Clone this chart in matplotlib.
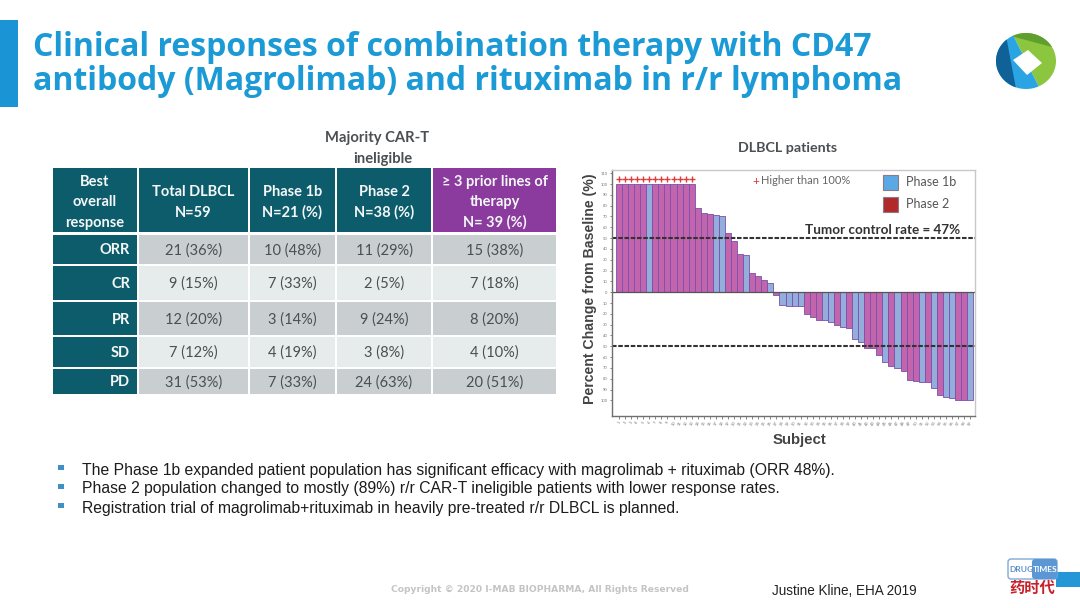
import numpy as np
import matplotlib
matplotlib.use("Agg")
import matplotlib.pyplot as plt
from matplotlib.patches import Rectangle, Polygon, FancyBboxPatch

# waterfall values, one per subject
change = [100, 100, 100, 100, 100, 100, 100, 100, 100, 100, 100, 100, 100,
          78, 73.5, 72, 71, 70, 55, 47, 35, 34, 18, 15, 11.5, 8.5, -3,
          -12, -12.5, -12.5, -13, -20, -22.5, -25.5, -25.5, -28, -30, -32.5, -33,
          -43, -46, -52, -52, -58, -65, -68, -70, -72.5, -81, -82, -83, -83.5,
          -89, -95, -96.5, -97.5, -100, -100, -100]
phase = ["2", "2", "2", "2", "2", "1b", "2", "2", "2", "2", "2", "2", "2",
         "2", "2", "2", "1b", "1b", "2", "2", "2", "1b", "2", "2", "2", "1b", "2",
         "1b", "1b", "1b", "1b", "2", "2", "2", "1b", "1b", "2", "1b", "2",
         "1b", "1b", "2", "2", "2", "1b", "2", "1b", "2", "2", "2", "1b", "2",
         "1b", "2", "1b", "1b", "2", "2", "1b"]
above_100 = 13

# response table
table_head = ["Best\noverall\nresponse", "Total DLBCL\nN=59", "Phase 1b\nN=21 (%)",
              "Phase 2\nN=38 (%)", "≥ 3 prior lines of\ntherapy\nN= 39 (%)"]
table_rows = ["ORR", "CR", "PR", "SD", "PD"]
table_total = ["21 (36%)", "9 (15%)", "12 (20%)", "7 (12%)", "31 (53%)"]
table_ph1b = ["10 (48%)", "7 (33%)", "3 (14%)", "4 (19%)", "7 (33%)"]
table_ph2 = ["11 (29%)", "2 (5%)", "9 (24%)", "3 (8%)", "24 (63%)"]
table_prior = ["15 (38%)", "7 (18%)", "8 (20%)", "4 (10%)", "20 (51%)"]

bullets = ["The Phase 1b expanded patient population has significant efficacy with magrolimab + rituximab (ORR 48%).",
           "Phase 2 population changed to mostly (89%) r/r CAR-T ineligible patients with lower response rates.",
           "Registration trial of magrolimab+rituximab in heavily pre-treated r/r DLBCL is planned."]

TEAL = "#0d5c6b"
VIOLET = "#8b3a9e"
BLUE = "#1b9ad6"
GREY_TEXT = "#4a4f52"

plt.rcParams["font.family"] = ["Lato", "DejaVu Sans"]

fig = plt.figure(figsize=(10.8, 6.08), dpi=100, facecolor="white")


def draw_waterfall():
    ax = fig.add_axes([612 / 1080, 1 - 416 / 608, 363 / 1080, 246 / 608])
    subjects = np.arange(1, len(change) + 1)
    colors = ["#94aedb" if p == "1b" else "#c265ad" for p in phase]
    ax.bar(subjects, change, width=1.0, color=colors, edgecolor="#7a4fae", linewidth=0.6)
    ax.set_xlim(-0.16, 59.8)
    ax.set_ylim(-114.5, 113)

    ax.axhline(0, color="#555555", lw=0.9)
    for level in (50, -50):
        ax.axhline(level, color="#333333", lw=1.5, ls=(0, (2.2, 0.8)))

    ax.plot(subjects[:above_100], [105] * above_100, ls="none", marker="+",
            color="#e03a3a", ms=4.5, mew=1.0)

    ax.set_yticks(np.arange(-100, 111, 10))
    ax.set_yticklabels([str(abs(v)) for v in np.arange(-100, 111, 10)], fontsize=3, color="#777777")
    ax.set_xticks(subjects)
    ax.set_xticklabels([str(v) for v in subjects], fontsize=3, rotation=60, color="#777777")
    ax.tick_params(axis="both", length=1.8, width=0.5, color="#555555", pad=1.5)

    for side in ("top", "right"):
        ax.spines[side].set_color("#c8c8c8")
    for side in ("left", "bottom"):
        ax.spines[side].set_color("#707070")
    for side in ax.spines:
        ax.spines[side].set_linewidth(1.0)


def draw_table(ov):
    col_edges = [(53, 137), (139, 248), (250, 335), (337, 431), (433, 556)]
    row_edges = [(235, 264), (266, 300), (302, 335), (337, 367), (369, 394)]
    fills = ["#c9ced1", "#e6ebec", "#c9ced1", "#e6ebec", "#c9ced1"]
    body = [table_total, table_ph1b, table_ph2, table_prior]

    for i, (x0, x1) in enumerate(col_edges):
        ov.add_patch(Rectangle((x0, 168), x1 - x0, 64, color=VIOLET if i == 4 else TEAL, lw=0))
        ov.text((x0 + x1) / 2, 202.5, table_head[i], color="#f4f7f7", fontsize=10.5, fontweight="bold",
                ha="center", va="center", linespacing=1.55)

    for r, (y0, y1) in enumerate(row_edges):
        x0, x1 = col_edges[0]
        ov.add_patch(Rectangle((x0, y0), x1 - x0, y1 - y0, color=TEAL, lw=0))
        ov.text(x1 - 7, (y0 + y1) / 2 + 1, table_rows[r], color="#f4f7f7", fontsize=10.5, fontweight="bold",
                ha="right", va="center")
        for c, column in enumerate(body):
            x0, x1 = col_edges[c + 1]
            ov.add_patch(Rectangle((x0, y0), x1 - x0, y1 - y0, color=fills[r], lw=0))
            ov.text((x0 + x1) / 2, (y0 + y1) / 2 + 1, column[r], color=GREY_TEXT, fontsize=10.5,
                    ha="center", va="center")

    ov.text(377, 138, "Majority CAR-T", color=GREY_TEXT, fontsize=10.6, fontweight="bold", ha="center", va="center")
    ov.text(383, 158.5, "ineligible", color=GREY_TEXT, fontsize=10.6, fontweight="bold", ha="center", va="center")


def pie_points(start, stop, rx=30, ry=28, cx=1026, cy=61, closed=True):
    t = np.radians(np.linspace(start, stop, 40))
    arc = np.column_stack([cx + rx * np.cos(t), cy - ry * np.sin(t)])
    if closed:
        return np.vstack([[cx, cy], arc])
    return arc


def draw_logo(ov):
    ov.add_patch(Polygon(pie_points(-65, 115), color="#8cc63f", lw=0))
    ov.add_patch(Polygon(pie_points(30, 118, closed=False), color="#5f9f2e", lw=0))
    ov.add_patch(Polygon(pie_points(115, 295), color="#2aa4e2", lw=0))
    ov.add_patch(Polygon(pie_points(130, 250, closed=False), color="#0f6197", lw=0))
    ov.add_patch(Polygon([(1013, 60), (1028, 50), (1042, 63), (1027, 75)], color="white", lw=0))


def draw_footer(ov):
    ov.add_patch(Rectangle((1056, 572), 24, 15, color="#2596d6", lw=0))
    ov.add_patch(FancyBboxPatch((1011, 562), 43, 14, boxstyle="round,pad=3", facecolor="white",
                                edgecolor="#7fa9d6", lw=1.0))
    ov.add_patch(FancyBboxPatch((1035, 562), 19, 14, boxstyle="round,pad=3", color="#5b97d5", lw=0))
    ov.text(1021, 569.5, "DRUG", color="#5b8fc9", fontsize=6, fontweight="bold", ha="center", va="center")
    ov.text(1045, 569.5, "TIMES", color="white", fontsize=6, fontweight="bold", ha="center", va="center")
    ov.text(1032, 587.5, "药时代", color="#c8202a", fontsize=11, fontweight="bold", ha="center", va="center",
            family=["Noto Sans CJK SC", "DejaVu Sans"])
    ov.text(540, 589, "Copyright © 2020 I-MAB BIOPHARMA, All Rights Reserved", color="#c4c4c4", fontsize=6.6,
            fontweight="bold", ha="center", va="center", family="DejaVu Sans")
    ov.text(772, 591, "Justine Kline, EHA 2019", color="#222222", fontsize=9.75, ha="left", va="center",
            family="Liberation Sans")


def main():
    ov = fig.add_axes([0, 0, 1, 1], zorder=5)
    ov.set_xlim(0, 1080)
    ov.set_ylim(608, 0)
    ov.axis("off")

    draw_waterfall()

    # slide heading
    ov.add_patch(Rectangle((0, 20), 18, 87, color="#1a94d4", lw=0))
    ov.text(33, 47, "Clinical responses of combination therapy with CD47", color=BLUE, fontsize=23,
            fontweight="bold", ha="left", va="center", family="Open Sans")
    ov.text(33, 82, "antibody (Magrolimab) and rituximab in r/r lymphoma", color=BLUE, fontsize=23,
            fontweight="bold", ha="left", va="center", family="Open Sans")
    draw_logo(ov)

    draw_table(ov)

    # chart annotations
    ov.text(788, 147.5, "DLBCL patients", color=GREY_TEXT, fontsize=10.3, fontweight="bold", ha="center", va="center")
    ov.text(590, 289, "Percent Change from Baseline (%)", color="#444444", fontsize=10.2, fontweight="bold",
            rotation=90, ha="center", va="center", family="Liberation Sans")
    ov.text(799, 440, "Subject", color="#444444", fontsize=10.8, fontweight="bold", ha="center", va="center",
            family="Liberation Sans")
    ov.text(752, 181, "+", color="#e03a3a", fontsize=8.5, ha="left", va="center")
    ov.text(761, 181, "Higher than 100%", color="#666666", fontsize=8, ha="left", va="center")
    ov.add_patch(Rectangle((883, 175), 15, 15, facecolor="#5aa9e6", edgecolor="#8a7a8a", lw=0.8))
    ov.add_patch(Rectangle((883, 197), 15, 15, facecolor="#b02a2a", edgecolor="#8a7a8a", lw=0.8))
    ov.text(906, 182, "Phase 1b", color="#555555", fontsize=9, ha="left", va="center")
    ov.text(906, 204, "Phase 2", color="#555555", fontsize=9, ha="left", va="center")
    ov.text(960, 230, "Tumor control rate = 47%", color="#333333", fontsize=9.7, fontweight="bold",
            ha="right", va="center")

    for y, line in zip([470, 489, 508], bullets):
        ov.add_patch(Rectangle((58, y - 5.5), 5.5, 5.5, color="#3f8fc9", lw=0))
        ov.text(82.5, y, line, color="#1c1c1c", fontsize=11.3, ha="left", va="center", family="Liberation Sans")

    draw_footer(ov)
    fig.savefig("out.png", dpi=100)


if __name__ == "__main__":
    main()
